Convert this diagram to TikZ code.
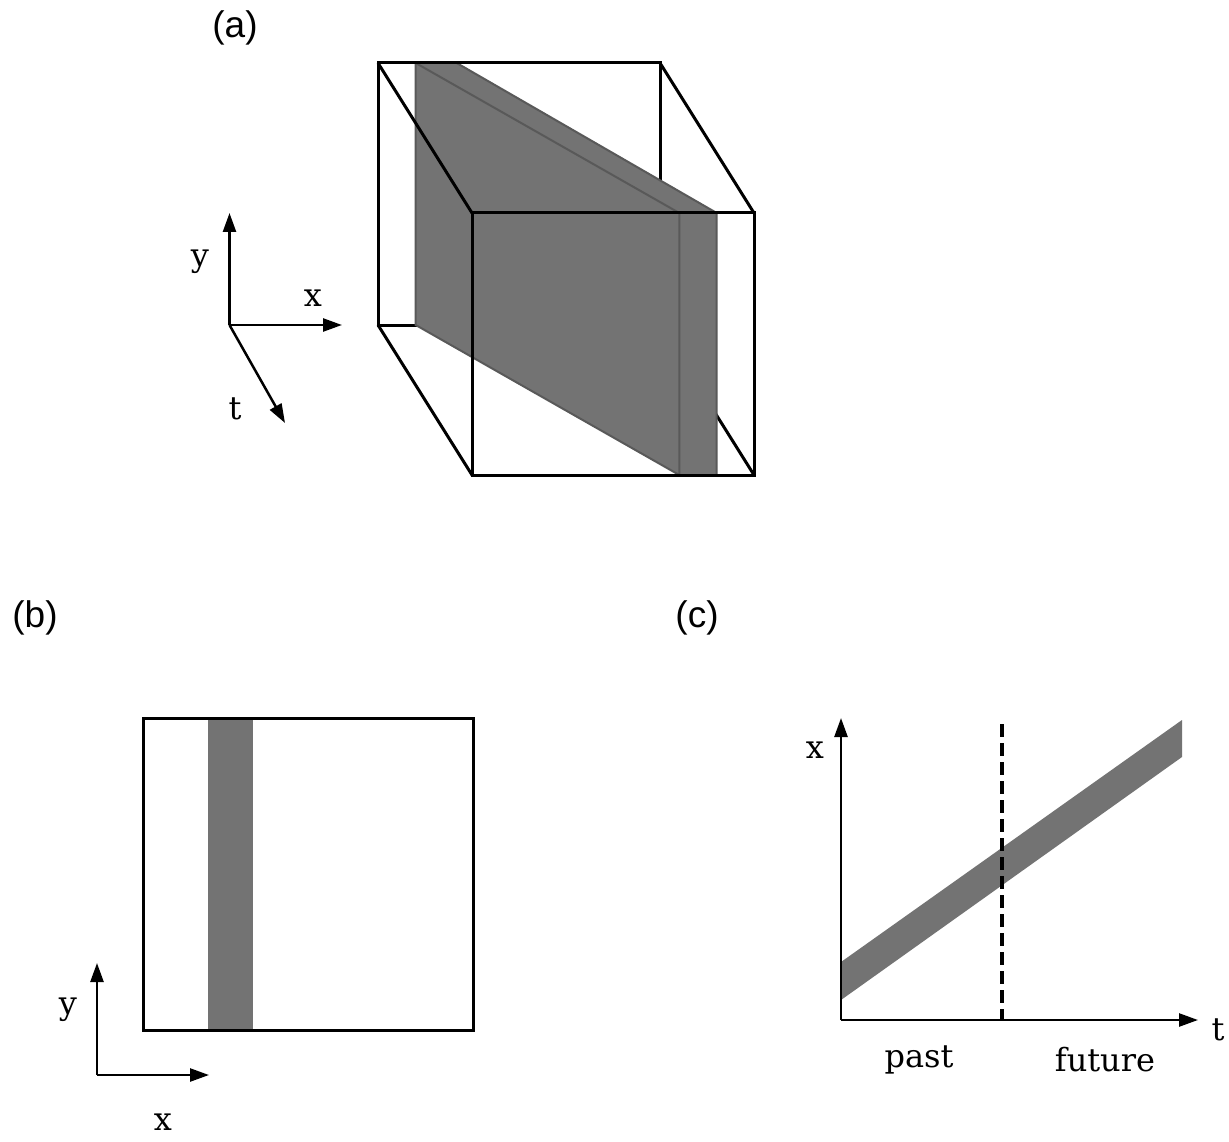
\documentclass[tikz,border=0pt]{standalone}
\usepackage{fontspec}
\newfontfamily\panelfont{Liberation Sans}
\newfontfamily\labelfont{DejaVu Serif}
\usetikzlibrary{arrows.meta}
\tikzset{
  edge/.style={line width=3pt, line join=miter},
  slab/.style={fill=black!55, draw=black!65, line width=2pt, line join=miter},
  slabline/.style={draw=black!65, line width=2pt},
  axis/.style={line width=2.5pt, -{Triangle[length=19pt,width=13pt]}},
  lbl/.style={inner sep=0pt, font=\labelfont\fontsize{32}{38}\selectfont},
  panel/.style={inner sep=0pt, font=\panelfont\fontsize{37}{42}\selectfont},
  band/.style={fill=black!55, draw=none},
  cutline/.style={line width=4pt, dash pattern=on 13pt off 6pt}
}
\begin{document}
\begin{tikzpicture}[x=1pt,y=-1pt]
\useasboundingbox[fill=white] (0,0) rectangle (1229,1142);

% ---------- (a) cube ----------
\coordinate (B1) at (378,63);
\coordinate (B2) at (660,63);
\coordinate (B3) at (660,325);
\coordinate (B4) at (378,325);
\coordinate (F1) at (472,213);
\coordinate (F2) at (754,213);
\coordinate (F3) at (754,475);
\coordinate (F4) at (472,475);
% slab corners
\coordinate (S1) at (415.7,63);
\coordinate (S2) at (456.7,63);
\coordinate (S3) at (716.7,213);
\coordinate (S4) at (716.7,475);
\coordinate (S5) at (679.3,475);
\coordinate (S6) at (415.7,325);
\coordinate (S7) at (679.3,213);

% back parts
\draw[edge] (B1) -- (B2) -- (B3) -- (B4) -- cycle;
\draw[edge] (B3) -- (F3);
% slab
\draw[slab] (S1) -- (S2) -- (S3) -- (S4) -- (S5) -- (S6) -- cycle;
\draw[slabline] (S1) -- (S7) -- (S5);
% front parts
\draw[edge] (F1) -- (F2) -- (F3) -- (F4) -- cycle;
\draw[edge] (B1) -- (F1);
\draw[edge] (B2) -- (F2);
\draw[edge] (B4) -- (F4);
\draw[edge] (B1) -- (B2);

% axes (a)
\coordinate (Oa) at (229.5,325);
\coordinate (Ya) at (229.5,213);
\coordinate (Xa) at (342,325);
\coordinate (Ta) at (285,423);
\draw[axis] (Oa) -- (Ya);
\draw[axis] (Oa) -- (Xa);
\draw[axis] (Oa) -- (Ta);
\node[lbl] (ly) at (200,262) {y};
\node[lbl] (lx) at (313,298) {x};
\node[lbl] (lt) at (235,409) {t};
\node[panel] (pa) at (235,28) {(a)};

% ---------- (b) ----------
\node[panel] (pb) at (35,618) {(b)};
\fill[black!55] (208,718) rectangle (253,1030);
\draw[edge] (143,718) coordinate (R1) rectangle (473,1030) coordinate (R2);
\coordinate (Ob) at (97,1075);
\coordinate (Yb) at (97,963);
\coordinate (Xb) at (209,1075);
\draw[axis] (Ob) -- (Yb);
\draw[axis] (Ob) -- (Xb);
\node[lbl] (lyb) at (68,1010) {y};
\node[lbl] (lxb) at (163,1122) {x};

% ---------- (c) ----------
\node[panel] (pc) at (697,618) {(c)};
\coordinate (Oc) at (841,1020);
\coordinate (Xc) at (841,718);
\coordinate (Tc) at (1198,1020);
\coordinate (C1) at (841,962);
\coordinate (C2) at (1182,720);
\coordinate (C3) at (1182,757);
\coordinate (C4) at (841,1000);
\fill[band] (C1) -- (C2) -- (C3) -- (C4) -- cycle;
\coordinate (D1) at (1002,724);
\coordinate (D2) at (1002,1020);
\draw[cutline] (D1) -- (D2);
\draw[axis] (Oc) -- (Xc);
\draw[axis] (Oc) -- (Tc);
\node[lbl] (lxc) at (815,750) {x};
\node[lbl] (ltc) at (1218,1030) {t};
\node[lbl] (past) at (919,1060) {past};
\node[lbl] (fut) at (1105,1060) {future};
\end{tikzpicture}
\end{document}
